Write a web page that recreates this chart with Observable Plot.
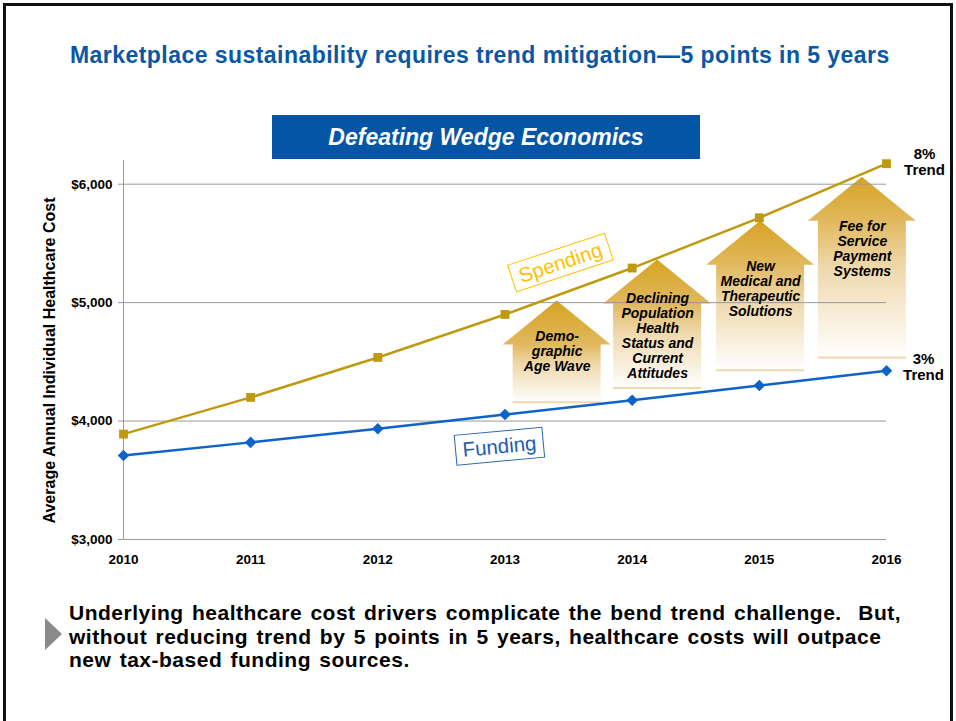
<!DOCTYPE html>
<html><head><meta charset="utf-8">
<script src="https://cdn.jsdelivr.net/npm/d3@7"></script>
<script src="https://cdn.jsdelivr.net/npm/@observablehq/plot@0.6"></script>
<style>
html,body{margin:0;padding:0;background:#fff;}
#wrap{position:relative;width:956px;height:721px;overflow:hidden;background:#fff;font-family:"Liberation Sans",Arial,Helvetica,sans-serif;}
#frame{position:absolute;left:3px;top:3px;width:944px;height:800px;border:3px solid #111;border-bottom:none;}
#title{position:absolute;left:70px;top:44px;font-size:23px;line-height:22px;font-weight:bold;color:#0B57A4;letter-spacing:0.45px;white-space:nowrap;}
#chart{position:absolute;left:0;top:140px;}
#banner{position:absolute;left:272px;top:115px;width:428px;height:44px;background:#0455A5;color:#fff;font-size:23px;line-height:44px;font-weight:bold;font-style:italic;text-align:center;white-space:nowrap;}
#note{position:absolute;left:69px;top:601px;font-size:21px;line-height:23.5px;font-weight:bold;color:#000;letter-spacing:0.5px;word-spacing:2px;white-space:nowrap;}
#bullet{position:absolute;left:45px;top:618px;width:0;height:0;border-left:17px solid #8a8a8a;border-top:16.5px solid transparent;border-bottom:16.5px solid transparent;}
</style>
</head><body>
<div id="wrap">
  <div id="frame"></div>
  <div id="title">Marketplace sustainability requires trend mitigation—5 points in 5 years</div>
  <div id="chart"></div>
  <div id="banner">Defeating Wedge Economics</div>
  <div id="bullet"></div>
  <div id="note">Underlying healthcare cost drivers complicate the bend trend challenge.&nbsp; But,<br>without reducing trend by 5 points in 5 years, healthcare costs will outpace<br>new tax-based funding sources.</div>
</div>
<script>
// ---- data ----
const years = [2010, 2011, 2012, 2013, 2014, 2015, 2016];
const spending = [3890, 4200, 4537, 4900, 5292, 5716, 6173];
const funding = [3710, 3820, 3935, 4055, 4175, 4300, 4425];
const yTicks = [3000, 4000, 5000, 6000];
const yTickLabels = ["$3,000", "$4,000", "$5,000", "$6,000"];
const yLabel = "Average Annual Individual Healthcare Cost";
const arrowLabels = ["Demo-\ngraphic\nAge Wave", "Declining\nPopulation\nHealth\nStatus and\nCurrent\nAttitudes", "New\nMedical and\nTherapeutic\nSolutions", "Fee for\nService\nPayment\nSystems"];
const arrowX = [2013.41, 2014.20, 2015.01, 2015.81];
const arrowTop = [5013, 5359, 5687, 6058];
const arrowBottom = [4154, 4275, 4424, 4533];
const arrowTextY = [4588, 4723, 5119, 5456];
const seriesLabels = ["Spending", "Funding"];
const seriesLabelX = [2013.44, 2012.96];
const seriesLabelY = [5334, 3783];
const trendLabels = ["8%\nTrend", "3%\nTrend"];

// ---- tables ----
const spendRows = years.map((year, i) => ({year, value: spending[i]}));
const fundRows = years.map((year, i) => ({year, value: funding[i]}));
const arrowRows = arrowLabels.map((label, i) => ({label, x: arrowX[i], top: arrowTop[i], bottom: arrowBottom[i], ty: arrowTextY[i]}));
const labelRows = seriesLabels.map((label, i) => ({label, x: seriesLabelX[i], y: seriesLabelY[i]}));

const GOLD = "#BF9A10";
const BLUE = "#0F62C8";
const FONT = "Liberation Sans, Arial, Helvetica, sans-serif";

// custom arrow mark drawn through Plot's scales
function arrowsMark(index, scales) {
  const {x, y} = scales;
  const g = d3.create("svg:g");
  const defs = g.append("defs");
  const hw = 54, sw = 44, hh = 44;
  arrowRows.forEach((a, i) => {
    const cx = x(a.x), ty = y(a.top), by = y(a.bottom);
    const frac = hh / (by - ty);
    const id = "arrowGrad" + i;
    const grad = defs.append("linearGradient").attr("id", id)
      .attr("x1", 0).attr("y1", 0).attr("x2", 0).attr("y2", 1);
    grad.append("stop").attr("offset", 0).attr("stop-color", "#D6A322");
    grad.append("stop").attr("offset", frac).attr("stop-color", "#E1B85E");
    grad.append("stop").attr("offset", frac + (1 - frac) * 0.35).attr("stop-color", "#EFD9AD");
    grad.append("stop").attr("offset", 1).attr("stop-color", "#FFFFFF");
    g.append("path")
      .attr("d", `M${cx},${ty}L${cx + hw},${ty + hh}L${cx + sw},${ty + hh}L${cx + sw},${by}L${cx - sw},${by}L${cx - sw},${ty + hh}L${cx - hw},${ty + hh}Z`)
      .attr("fill", `url(#${id})`);
    g.append("line")
      .attr("x1", cx - sw).attr("x2", cx + sw).attr("y1", by).attr("y2", by)
      .attr("stroke", "#EFD8AC").attr("stroke-width", 2);
  });
  return g.node();
}

// boxed, rotated series labels
function seriesLabelMark(index, scales) {
  const {x, y} = scales;
  const styles = [
    {angle: -18.3, w: 102, h: 28, color: "#FFC000", stroke: "#FFC000"},
    {angle: -5.3, w: 88, h: 30, color: "#1C5DB0", stroke: "#2A63B0"}
  ];
  const g = d3.create("svg:g");
  labelRows.forEach((d, i) => {
    const s = styles[i];
    const gi = g.append("g").attr("transform", `translate(${x(d.x)},${y(d.y)}) rotate(${s.angle})`);
    gi.append("rect").attr("x", -s.w / 2).attr("y", -s.h / 2).attr("width", s.w).attr("height", s.h)
      .attr("fill", "none").attr("stroke", s.stroke).attr("stroke-width", 1);
    gi.append("text").attr("text-anchor", "middle").attr("dy", "0.35em")
      .attr("font-family", FONT).attr("font-size", 20.5).attr("fill", s.color).text(d.label);
  });
  return g.node();
}

// rotated y-axis title
function yLabelMark(index, scales, values, dimensions) {
  const {marginTop, marginBottom, height} = dimensions;
  const cy = (marginTop + height - marginBottom) / 2 + 11;
  const t = d3.create("svg:text")
    .attr("transform", `translate(49,${cy}) rotate(-90)`)
    .attr("text-anchor", "middle").attr("dy", "0.35em")
    .attr("font-family", FONT).attr("font-size", 16).attr("font-weight", "bold").attr("fill", "#000")
    .text(yLabel);
  return t.node();
}

const chart = Plot.plot({
  width: 956,
  height: 440,
  marginLeft: 123,
  marginRight: 70,
  marginTop: 20,
  marginBottom: 41,
  style: {background: "transparent", fontFamily: FONT, overflow: "visible"},
  x: {domain: [2010, 2016]},
  y: {domain: [3000, 6200]},
  marks: [
    arrowsMark,
    Plot.ruleY(yTicks.filter(v => v > 3000), {stroke: "#9a9a9a", strokeWidth: 1}),
    Plot.ruleY([3000], {stroke: "#9a9a9a", strokeWidth: 1}),
    Plot.ruleX([2010], {stroke: "#9a9a9a", strokeWidth: 1}),
    Plot.axisY({ticks: yTicks, tickFormat: d => yTickLabels[yTicks.indexOf(d)], tickSize: 5, tickPadding: 6,
      fontSize: 13.5, fontWeight: "bold", stroke: "#9a9a9a", fill: "#000", label: null}),
    Plot.axisX({ticks: years, tickFormat: d => String(d), tickSize: 0, tickPadding: 15,
      fontSize: 13.5, fontWeight: "bold", fill: "#000", label: null}),
    yLabelMark,
    Plot.text(arrowRows, {x: "x", y: "ty", text: "label", fontSize: 14, fontWeight: "bold", fontStyle: "italic", lineHeight: 1.07, fill: "#000"}),
    Plot.line(spendRows, {x: "year", y: "value", stroke: GOLD, strokeWidth: 2.5}),
    Plot.line(fundRows, {x: "year", y: "value", stroke: BLUE, strokeWidth: 2.5}),
    Plot.dot(spendRows, {x: "year", y: "value", symbol: "square", r: 5, fill: GOLD}),
    Plot.dot(fundRows, {x: "year", y: "value", symbol: "diamond2", r: 5.2, fill: BLUE}),
    seriesLabelMark,
    Plot.text([spendRows[spendRows.length - 1]], {x: "year", y: "value", text: () => trendLabels[0], dx: 38, dy: -2, fontSize: 15, fontWeight: "bold", lineHeight: 1.07, fill: "#000"}),
    Plot.text([fundRows[fundRows.length - 1]], {x: "year", y: "value", text: () => trendLabels[1], dx: 37, dy: -3.5, fontSize: 15, fontWeight: "bold", lineHeight: 1.07, fill: "#000"})
  ]
});
document.getElementById("chart").appendChild(chart);
</script>
</body></html>
